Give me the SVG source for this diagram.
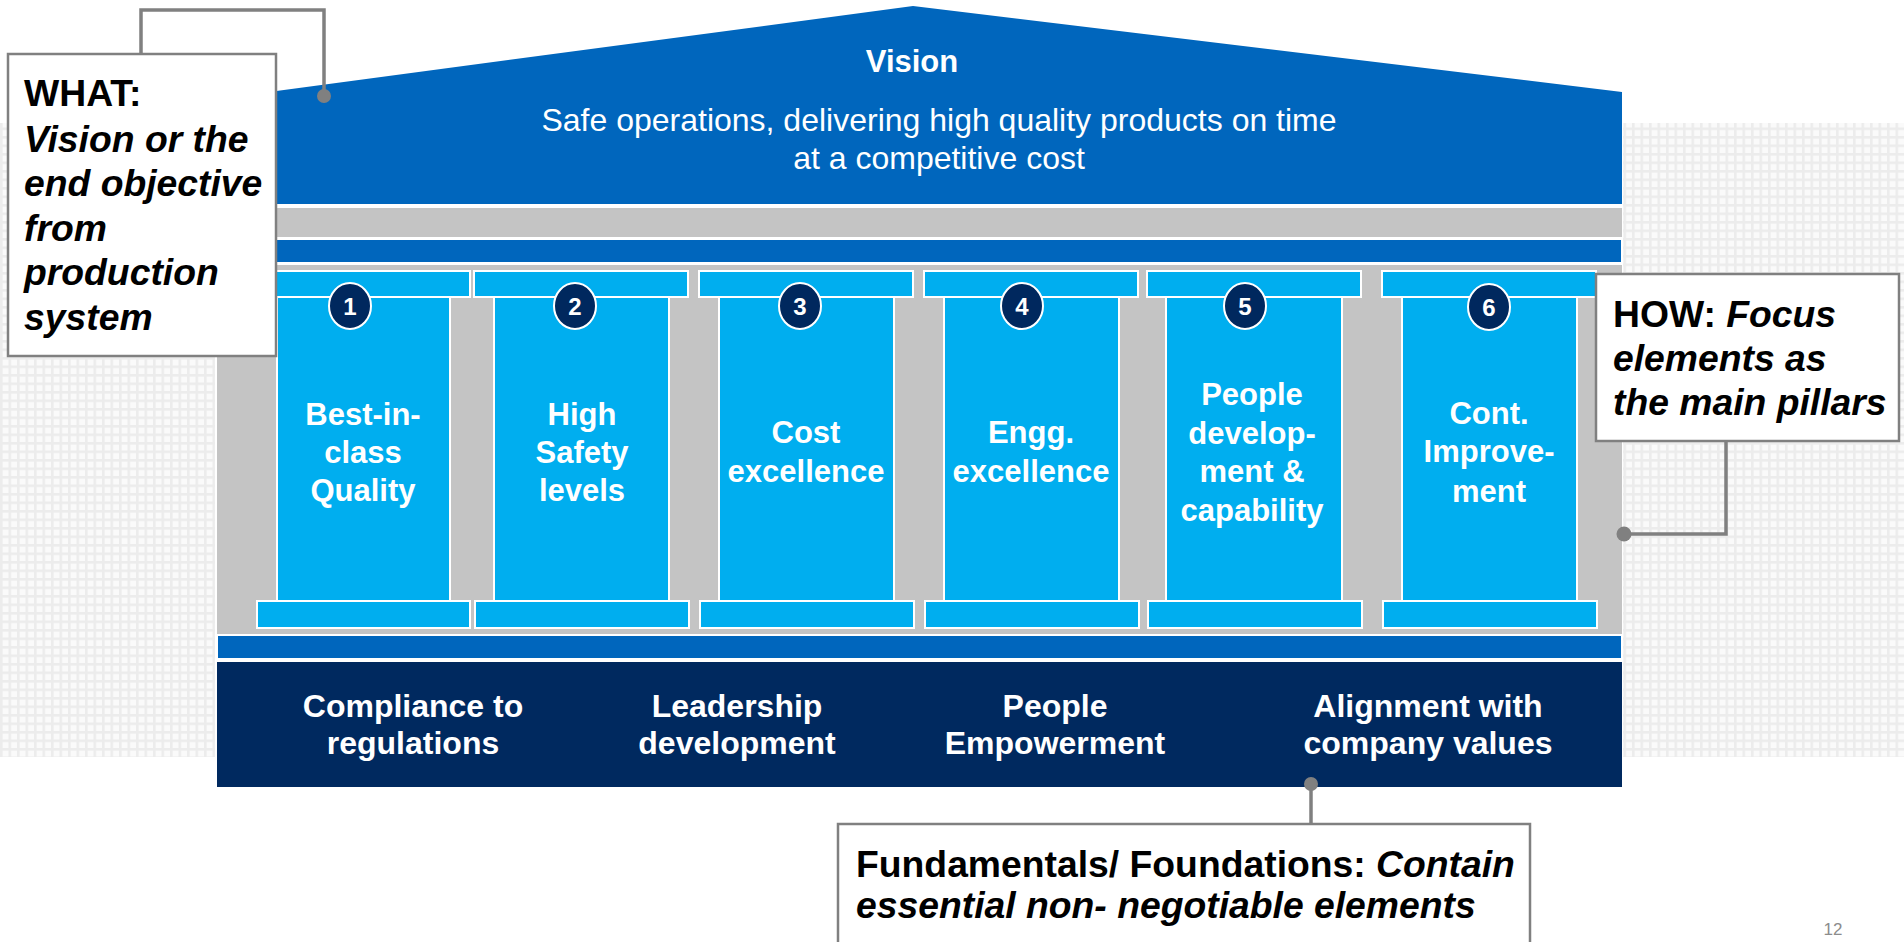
<svg xmlns="http://www.w3.org/2000/svg" width="1904" height="942" viewBox="0 0 1904 942">
<defs>
<pattern id="grid" x="0" y="0" width="8.5" height="8.5" patternUnits="userSpaceOnUse">
<rect width="8.5" height="8.5" fill="#ececec"/>
<rect x="2.5" y="2.5" width="6" height="6" fill="#fafafa"/>
</pattern>
<style>
.roof{fill:#0066BD}
.band{fill:#0066BD;stroke:#ffffff;stroke-width:2}
.grey{fill:#C4C4C4}
.shaft{fill:#00AEEF;stroke:#ffffff;stroke-width:2}
.cap{fill:#00AEEF;stroke:#ffffff;stroke-width:2}
.num{fill:#00285E;stroke:#ffffff;stroke-width:2}
.numt{font-family:"Liberation Sans",Arial,sans-serif;font-weight:bold;font-size:24px;fill:#ffffff;text-anchor:middle}
.pt{font-family:"Liberation Sans",Arial,sans-serif;font-weight:bold;font-size:31px;fill:#ffffff;text-anchor:middle}
.ft{font-family:"Liberation Sans",Arial,sans-serif;font-weight:bold;font-size:32px;fill:#ffffff;text-anchor:middle}
.vt{font-family:"Liberation Sans",Arial,sans-serif;font-size:31px;fill:#ffffff;text-anchor:middle}
.vs{font-family:"Liberation Sans",Arial,sans-serif;font-size:32px;fill:#ffffff;text-anchor:middle}
.found{fill:#00295F}
.box{fill:#ffffff;stroke:#808080;stroke-width:2.5}
.ct{font-family:"Liberation Sans",Arial,sans-serif;font-weight:bold;font-size:37.3px;fill:#000000}
.it{font-style:italic}
.conn{fill:none;stroke:#808080;stroke-width:3.5}
.dot{fill:#808080}
</style>
</defs>
<rect width="1904" height="942" fill="#ffffff"/>
<rect x="0" y="123" width="215" height="634" fill="url(#grid)"/>
<rect x="1623" y="123" width="281" height="634" fill="url(#grid)"/>

<g id="vision">
<polygon class="roof" points="217,99 913,6 1622,92 1622,204 217,204"/>
<text class="vt" x="912" y="72" font-weight="bold">Vision</text>
<text class="vs" x="939" y="131">Safe operations, delivering high quality products on time</text>
<text class="vs" x="939" y="169">at a competitive cost</text>
</g>

<g id="beam">
<rect class="grey" x="217" y="208" width="1405" height="29"/>
<rect class="band" x="217" y="239" width="1405" height="24"/>
<rect class="grey" x="217" y="265" width="1405" height="369"/>
</g>

<g id="pillar1">
<rect class="shaft" x="277" y="297" width="173" height="304"/>
<rect class="cap" x="257" y="271" width="213" height="26"/>
<rect class="cap" x="257" y="601" width="213" height="27"/>
<ellipse class="num" cx="350" cy="306" rx="21" ry="23"/>
<text class="numt" x="350" y="315">1</text>
<text class="pt" x="363" y="425">Best-in-</text>
<text class="pt" x="363" y="463">class</text>
<text class="pt" x="363" y="501">Quality</text>
</g>

<g id="pillar2">
<rect class="shaft" x="494" y="297" width="175" height="304"/>
<rect class="cap" x="474" y="271" width="214" height="26"/>
<rect class="cap" x="475" y="601" width="214" height="27"/>
<ellipse class="num" cx="575" cy="306" rx="21" ry="23"/>
<text class="numt" x="575" y="315">2</text>
<text class="pt" x="582" y="425">High</text>
<text class="pt" x="582" y="463">Safety</text>
<text class="pt" x="582" y="501">levels</text>
</g>

<g id="pillar3">
<rect class="shaft" x="719" y="297" width="175" height="304"/>
<rect class="cap" x="699" y="271" width="214" height="26"/>
<rect class="cap" x="700" y="601" width="214" height="27"/>
<ellipse class="num" cx="800" cy="306" rx="21" ry="23"/>
<text class="numt" x="800" y="315">3</text>
<text class="pt" x="806" y="443">Cost</text>
<text class="pt" x="806" y="482">excellence</text>
</g>

<g id="pillar4">
<rect class="shaft" x="944" y="297" width="175" height="304"/>
<rect class="cap" x="924" y="271" width="214" height="26"/>
<rect class="cap" x="925" y="601" width="214" height="27"/>
<ellipse class="num" cx="1022" cy="306" rx="21" ry="23"/>
<text class="numt" x="1022" y="315">4</text>
<text class="pt" x="1031" y="443">Engg.</text>
<text class="pt" x="1031" y="482">excellence</text>
</g>

<g id="pillar5">
<rect class="shaft" x="1166" y="297" width="176" height="304"/>
<rect class="cap" x="1147" y="271" width="214" height="26"/>
<rect class="cap" x="1148" y="601" width="214" height="27"/>
<ellipse class="num" cx="1245" cy="306" rx="21" ry="23"/>
<text class="numt" x="1245" y="315">5</text>
<text class="pt" x="1252" y="405">People</text>
<text class="pt" x="1252" y="444">develop-</text>
<text class="pt" x="1252" y="482">ment &amp;</text>
<text class="pt" x="1252" y="521">capability</text>
</g>

<g id="pillar6">
<rect class="shaft" x="1402" y="297" width="175" height="304"/>
<rect class="cap" x="1382" y="271" width="214" height="26"/>
<rect class="cap" x="1383" y="601" width="214" height="27"/>
<ellipse class="num" cx="1489" cy="307" rx="21" ry="23"/>
<text class="numt" x="1489" y="316">6</text>
<text class="pt" x="1489" y="424">Cont.</text>
<text class="pt" x="1489" y="462">Improve-</text>
<text class="pt" x="1489" y="502">ment</text>
</g>

<g id="foundation">
<rect class="band" x="217" y="635" width="1405" height="24"/>
<rect class="found" x="217" y="662" width="1405" height="125"/>
<text class="ft" x="413" y="717">Compliance to</text>
<text class="ft" x="413" y="754">regulations</text>
<text class="ft" x="737" y="717">Leadership</text>
<text class="ft" x="737" y="754">development</text>
<text class="ft" x="1055" y="717">People</text>
<text class="ft" x="1055" y="754">Empowerment</text>
<text class="ft" x="1428" y="717">Alignment with</text>
<text class="ft" x="1428" y="754">company values</text>
</g>

<g id="connectors">
<path class="conn" d="M141,54 V10 H324 V96"/>
<circle class="dot" cx="324" cy="96" r="7"/>
<path class="conn" d="M1726,441 V534 H1624"/>
<circle class="dot" cx="1624" cy="534" r="7.5"/>
<path class="conn" d="M1311,824 V784"/>
<circle class="dot" cx="1311" cy="784" r="7"/>
</g>

<g id="what-callout">
<rect class="box" x="8" y="54" width="268" height="302"/>
<text class="ct" x="24" y="106">WHAT:</text>
<text class="ct it" x="24" y="152">Vision or the</text>
<text class="ct it" x="24" y="196">end objective</text>
<text class="ct it" x="24" y="241">from</text>
<text class="ct it" x="24" y="285">production</text>
<text class="ct it" x="24" y="330">system</text>
</g>

<g id="how-callout">
<rect class="box" x="1596" y="274" width="303" height="167"/>
<text class="ct" x="1613" y="327">HOW: <tspan class="it">Focus</tspan></text>
<text class="ct it" x="1613" y="371">elements as</text>
<text class="ct it" x="1613" y="415">the main pillars</text>
</g>

<g id="foundations-callout">
<rect class="box" x="838" y="824" width="692" height="140"/>
<text class="ct" x="856" y="877">Fundamentals/ Foundations: <tspan class="it">Contain</tspan></text>
<text class="ct it" x="856" y="918">essential non- negotiable elements</text>
</g>

<text x="1833" y="935" font-family="Liberation Sans, Arial, sans-serif" font-size="17" fill="#8c8c8c" text-anchor="middle">12</text>
</svg>
